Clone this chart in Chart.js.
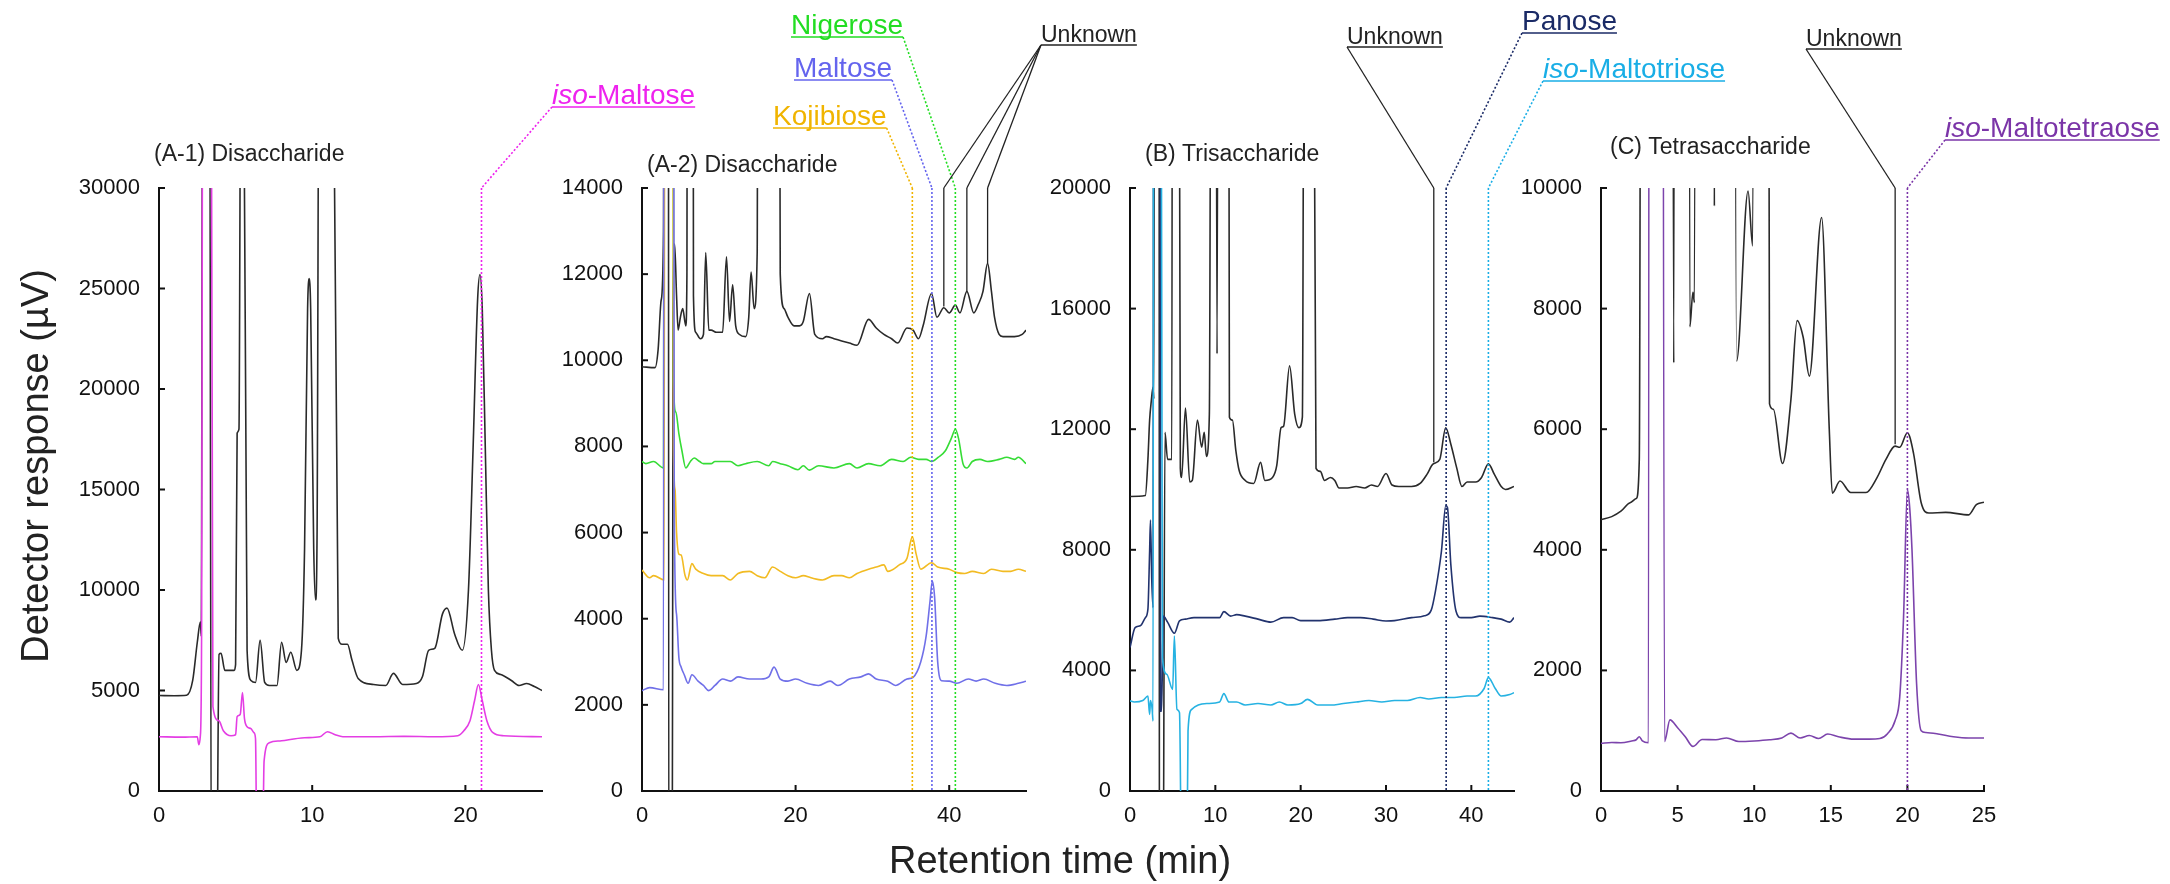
<!DOCTYPE html>
<html>
<head>
<meta charset="utf-8">
<title>Oligosaccharide chromatograms</title>
<script src="https://cdn.jsdelivr.net/npm/chart.js@4.4.1/dist/chart.umd.min.js"></script>
<style>
  html, body { margin: 0; padding: 0; background: #fff; }
  #stage { position: relative; width: 2170px; height: 884px; overflow: hidden; }
  #stage canvas { position: absolute; left: 0; top: 0; }
</style>
</head>
<body>
<div id="stage">
  <canvas id="chartA1" width="2170" height="884"></canvas>
  <canvas id="chartA2" width="2170" height="884"></canvas>
  <canvas id="chartB" width="2170" height="884"></canvas>
  <canvas id="chartC" width="2170" height="884"></canvas>
</div>
<script>
// ============================================
// DATA  (retention time in min, response in µV)
// values far outside the axis range are peaks that run off the plot
// ============================================

// (A-1) Disaccharide
const a1Black = [[0,4750],[1.0,4740],[1.8,4760],[2.2,5500],[2.5,7400],[2.7,8400],[2.76,7700],[2.85,40000],[3.3,40000],[3.42,-6000],[3.75,-6000],[3.92,6800],[4.05,6850],[4.3,6000],[4.9,6000],[5.0,6300],[5.1,17800],[5.22,18000],[5.35,40000],[5.5,40000],[5.75,7000],[6.0,5500],[6.3,5400],[6.6,7500],[6.9,5400],[7.2,5250],[7.7,5250],[8.0,7400],[8.3,6400],[8.6,6900],[9.0,6000],[9.3,7000],[9.5,12000],[9.7,24000],[9.8,25500],[9.9,24000],[10.1,12000],[10.22,9500],[10.32,13000],[10.45,40000],[11.35,40000],[11.7,7600],[11.95,7300],[12.3,7300],[12.6,6500],[13.0,5600],[14.0,5300],[14.8,5250],[15.3,5850],[15.9,5300],[16.8,5350],[17.2,5700],[17.6,7000],[18.0,7100],[18.5,8800],[18.8,9100],[19.3,7800],[19.8,7000],[20.2,10000],[20.5,17000],[20.8,24500],[20.95,25700],[21.1,24000],[21.3,17000],[21.5,10000],[21.7,7000],[21.9,6000],[22.3,5800],[23.0,5500],[23.5,5250],[24.0,5350],[24.5,5200],[25,5000]];
const a1IsoMaltose = [[0,2700],[1.5,2680],[2.5,2700],[2.6,2300],[2.7,2750],[2.78,7700],[2.86,40000],[3.4,40000],[3.52,4200],[3.9,3500],[4.2,3000],[4.7,2750],[5.0,2800],[5.1,3700],[5.3,3800],[5.45,4900],[5.58,3600],[5.75,3200],[6.0,3100],[6.2,2900],[6.3,2600],[6.42,-6000],[6.72,-6000],[6.86,1500],[7.2,2400],[8.0,2500],[9.5,2650],[10.5,2700],[11.0,2950],[11.5,2800],[12.0,2700],[14.0,2700],[16.0,2720],[18.0,2700],[19.5,2750],[19.9,3000],[20.3,3500],[20.6,4500],[20.85,5300],[21.1,4500],[21.4,3500],[21.8,2900],[22.5,2750],[25,2700]];

// (A-2) Disaccharide
const a2Black = [[0,9850],[1.7,9830],[2.1,10250],[2.5,11400],[2.8,13000],[2.95,40000],[3.4,40000],[3.5,-6000],[3.9,-6000],[4.05,11000],[4.25,12700],[4.5,11500],[4.7,10700],[5.0,11000],[5.3,11200],[5.7,10800],[5.85,12000],[5.95,40000],[6.55,40000],[6.7,11500],[7.0,10650],[7.6,10500],[8.0,10600],[8.3,12500],[8.7,10700],[9.0,10700],[9.7,10650],[10.5,10650],[11.0,12400],[11.4,10900],[11.8,11750],[12.2,10800],[12.7,10600],[13.5,10550],[13.9,11000],[14.2,12050],[14.6,11200],[15.0,12500],[15.2,40000],[17.6,40000],[18.0,12000],[18.5,11200],[19.0,11000],[19.8,10800],[20.5,10800],[21.0,10900],[21.8,11550],[22.5,10600],[23.5,10500],[24.0,10550],[25.0,10500],[26.0,10450],[27.0,10400],[28.0,10350],[29.5,10950],[30.5,10750],[31.5,10600],[32.5,10500],[33.3,10400],[34.5,10750],[35.3,10700],[36.0,10500],[36.6,10800],[37.7,11550],[38.4,11000],[39.3,11220],[40.0,11100],[40.8,11280],[41.4,11100],[42.3,11600],[43.2,11100],[43.8,11300],[44.4,11600],[45.0,12250],[45.5,11600],[45.9,11000],[46.5,10600],[47.0,10550],[48.5,10550],[49.5,10600],[50,10700]];
const a2Nigerose = [[0,7650],[0.5,7600],[1.5,7650],[2.8,7500],[2.95,40000],[4.0,40000],[4.1,9500],[4.4,8800],[4.8,8300],[5.2,7900],[5.7,7500],[6.3,7650],[6.8,7730],[7.5,7650],[8.0,7600],[9.0,7600],[9.5,7650],[10.5,7650],[11.5,7650],[12.5,7550],[13.5,7600],[15.0,7650],[16.5,7550],[17.0,7650],[18.0,7600],[19.0,7550],[20.3,7460],[21.0,7550],[21.8,7450],[23.0,7550],[25.0,7500],[27.0,7600],[28.0,7500],[29.5,7600],[31.0,7550],[32.5,7700],[34.0,7650],[35.0,7750],[36.0,7700],[37.0,7700],[37.7,7650],[38.6,7750],[39.5,7900],[40.3,8200],[40.8,8400],[41.2,8200],[41.8,7600],[42.3,7500],[43.0,7650],[44.0,7700],[45.0,7650],[46.5,7700],[47.5,7750],[48.5,7700],[49.0,7750],[50,7600]];
const a2Kojibiose = [[0,5130],[1.0,4950],[1.5,5000],[2.9,4900],[3.0,40000],[3.9,40000],[4.1,8000],[4.3,7000],[4.5,6000],[4.8,5500],[5.1,5480],[5.6,5010],[5.9,4900],[6.5,5280],[7.0,5150],[8.0,5050],[9.0,5000],[10.5,5000],[11.5,4900],[12.5,5050],[14.0,5100],[15.0,5000],[16.0,4950],[17.0,5200],[18.0,5100],[19.0,5000],[20.0,4950],[21.0,5000],[22.0,4950],[23.5,4900],[25.0,5000],[26.0,5000],[27.0,4950],[28.0,5050],[29.5,5150],[30.5,5200],[31.5,5250],[32.0,5100],[33.5,5250],[34.5,5400],[35.2,5900],[35.7,5500],[36.3,5150],[37.7,5300],[38.5,5200],[40.0,5150],[41.0,5070],[42.0,5050],[43.0,5100],[44.5,5050],[45.5,5150],[47.0,5100],[48.0,5100],[49.0,5150],[50,5100]];
const a2Maltose = [[0,2330],[1.0,2400],[2.8,2350],[2.9,40000],[4.0,40000],[4.2,6500],[4.5,4100],[4.8,3100],[5.1,2875],[5.5,2700],[6.0,2500],[6.5,2700],[7.3,2550],[8.0,2450],[8.7,2330],[9.5,2450],[10.5,2600],[11.5,2550],[12.5,2650],[14.0,2600],[15.5,2600],[16.5,2650],[17.2,2875],[18.0,2600],[19.0,2550],[20.0,2600],[21.5,2500],[23.0,2450],[24.5,2550],[25.5,2450],[27.0,2600],[28.5,2650],[29.5,2720],[30.5,2600],[32.0,2550],[33.0,2450],[34.5,2600],[35.3,2640],[36.3,3000],[37.0,3600],[37.5,4400],[37.8,4870],[38.1,4500],[38.5,3000],[39.0,2560],[40.0,2550],[41.0,2500],[42.5,2600],[43.5,2550],[44.5,2600],[46.0,2500],[47.5,2450],[49.0,2500],[50,2550]];

// (B) Trisaccharide
const bBlack = [[0,9770],[1.8,9800],[2.1,11000],[2.3,12300],[2.5,12950],[2.7,13400],[2.8,13000],[2.9,40000],[3.4,40000],[3.45,-6000],[3.85,-6000],[4.1,11900],[4.4,11000],[4.9,11000],[5.0,40000],[5.65,40000],[5.9,10700],[6.05,10400],[6.5,12700],[7.0,10250],[7.3,10300],[7.9,12300],[8.4,11400],[8.7,11900],[8.95,11100],[9.3,12500],[9.6,40000],[10.0,40000],[10.2,14500],[10.4,40000],[11.5,40000],[11.65,12400],[12.0,12300],[12.4,11300],[12.8,10620],[13.5,10300],[14.5,10200],[15.3,10900],[15.8,10300],[16.7,10400],[17.2,10800],[17.7,12050],[18.0,12100],[18.7,14100],[19.3,12500],[19.8,12050],[20.2,12400],[20.5,40000],[21.3,40000],[21.8,10700],[22.3,10600],[22.8,10300],[23.5,10400],[24.0,10300],[24.5,10050],[25.5,10050],[26.5,10100],[27.5,10050],[28.3,10150],[29.0,10100],[30.0,10530],[30.7,10150],[31.5,10100],[33.0,10100],[34.0,10200],[34.8,10500],[35.5,10840],[36.3,11000],[37.0,12050],[37.6,11500],[38.3,10700],[38.9,10100],[39.5,10250],[40.5,10250],[41.2,10400],[42.0,10850],[42.7,10500],[43.5,10100],[44.0,10000],[45,10100]];
const bPanose = [[0,4760],[0.6,5420],[1.2,5480],[1.8,5750],[2.1,6030],[2.3,7960],[2.4,8990],[2.55,7000],[2.7,6080],[2.8,40000],[3.5,40000],[3.58,2650],[3.7,2650],[3.9,5800],[4.4,5600],[5.2,5230],[5.8,5640],[6.5,5700],[7.5,5750],[9.0,5750],[10.5,5750],[11.0,5950],[11.8,5800],[12.5,5850],[13.5,5800],[15.0,5700],[16.5,5600],[18.0,5750],[19.0,5750],[20.0,5650],[22.0,5650],[24.0,5700],[25.5,5750],[27.0,5750],[28.5,5700],[30.0,5640],[31.0,5650],[33.0,5750],[34.5,5810],[35.3,6000],[35.8,6640],[36.5,7960],[37.0,9460],[37.2,9400],[37.6,7500],[38.2,5970],[38.8,5750],[40.0,5750],[41.0,5800],[42.5,5750],[43.5,5700],[44.5,5600],[45,5750]];
const bIsoMaltotriose = [[0,2990],[0.5,2950],[1.5,3000],[2.1,3150],[2.3,2540],[2.4,3000],[2.6,2700],[2.7,2320],[2.8,40000],[3.55,40000],[3.8,4420],[4.3,3870],[5.0,3370],[5.2,5140],[5.5,2710],[5.8,2600],[6.15,-6000],[6.55,-6000],[6.8,1990],[7.2,2700],[8.0,2850],[9.0,2900],[10.5,2950],[11.0,3230],[11.6,2950],[12.5,2950],[13.5,2850],[15.0,2900],[16.5,2850],[17.5,2950],[18.5,2850],[20.0,2900],[20.8,3040],[22.0,2850],[23.5,2850],[25.0,2900],[26.5,2950],[28.0,3000],[29.5,2950],[31.0,3000],[32.5,3000],[34.0,3100],[35.0,3050],[36.5,3100],[38.0,3100],[39.5,3150],[40.5,3150],[41.5,3400],[42.0,3760],[42.8,3400],[43.5,3150],[44.5,3200],[45,3260]];

// (C) Tetrasaccharide
const cBlack = [[0,4500],[0.7,4550],[1.3,4640],[1.9,4780],[2.3,4850],[2.5,5500],[2.75,40000],[4.5,40000],[4.75,7100],[4.9,40000],[5.65,40000],[5.8,7700],[6.0,8270],[6.1,8100],[6.3,40000],[7.3,40000],[7.4,9700],[7.5,40000],[8.5,40000],[8.85,7130],[9.6,9950],[9.9,9040],[10.2,40000],[10.75,40000],[11.0,6420],[11.25,6330],[11.85,5430],[12.4,6500],[12.8,7800],[13.2,7520],[13.6,6880],[14.4,9510],[14.9,6000],[15.1,4940],[15.6,5140],[16.3,4950],[17.3,4950],[18.0,5190],[18.6,5500],[19.2,5720],[19.5,5700],[20.0,5940],[20.4,5600],[20.9,4780],[21.4,4610],[22.5,4620],[24.0,4580],[24.5,4750],[25,4790]];
const cIsoMaltotetraose = [[0,790],[0.7,805],[1.3,800],[2.0,830],[2.3,850],[2.5,900],[2.7,830],[3.1,800],[3.18,40000],[3.9,40000],[4.15,820],[4.5,1180],[5.0,1050],[5.5,900],[6.0,740],[6.6,855],[7.5,850],[8.2,880],[9.0,820],[10.0,830],[11.0,850],[11.8,880],[12.4,960],[13.0,880],[13.6,920],[14.2,870],[14.8,945],[15.5,900],[16.5,860],[17.5,860],[18.2,870],[18.7,950],[19.2,1170],[19.5,1560],[19.75,2890],[20.0,5000],[20.15,4700],[20.3,4000],[20.6,1780],[20.9,1000],[21.2,970],[22.0,945],[23.0,900],[24.0,880],[25,880]];

// peak markers (min) and where the "Unknown" leader lines stop (µV)
const a1LabelTimes = [21.05];
const a2KojibioseTimes = [35.2];
const a2MaltoseTimes = [37.75];
const a2NigeroseTimes = [40.8];
const a2UnknownTimes = [39.3, 42.3, 45.0];
const a2UnknownEnds = [11250, 11600, 12250];
const bPanoseTimes = [37.05];
const bIsoMaltotrioseTimes = [42.0];
const bUnknownTimes = [35.6];
const bUnknownEnds = [10900];
const cIsoMaltotetraoseTimes = [20.0];
const cUnknownTimes = [19.2];
const cUnknownEnds = [5750];

// ============================================
// LAYOUT / STYLE
// ============================================
const FONT = '"Liberation Sans", Arial, Helvetica, sans-serif';
const PAGE_W = 2170, PAGE_H = 884;
const PLOT_TOP = 188, PLOT_BOTTOM = 791;
const Y_AXIS_W = 80, X_AXIS_H = 60;
const TICK_LEN = 6;
const AXIS_COLOR = "#111";

const COL = {
    black: "#2a2a2a",
    magenta: "#e43ee4",
    green: "#36dc36",
    gold: "#f2bb22",
    lilac: "#7070e8",
    navy: "#22336e",
    cyan: "#26b2e2",
    purple: "#7c44ac"
};

function seg(ctx, x1, y1, x2, y2) {
    ctx.beginPath();
    ctx.moveTo(x1, y1);
    ctx.lineTo(x2, y2);
    ctx.stroke();
}

function drawLabel(ctx, note) {
    let x = note.x;
    ctx.fillStyle = note.color;
    ctx.textAlign = "left";
    ctx.textBaseline = "alphabetic";
    note.parts.forEach(([txt, italic]) => {
        ctx.font = (italic ? "italic " : "") + note.size + "px " + FONT;
        ctx.fillText(txt, x, note.baseline);
        x += ctx.measureText(txt).width;
    });
    const uy = note.baseline + 3;
    ctx.strokeStyle = note.color;
    ctx.lineWidth = 1.5;
    ctx.setLineDash([]);
    seg(ctx, note.x, uy, x, uy);
    return { x: note.anchor === "left" ? note.x : x, y: uy };
}

// Draws inward ticks, the panel title and the peak labels with their leader lines
function decorPlugin(panel) {
    return {
        id: "decor_" + panel.id,
        afterDraw(chart) {
            const ctx = chart.ctx;
            const xs = chart.scales.x, ys = chart.scales.y, area = chart.chartArea;
            ctx.save();

            ctx.strokeStyle = AXIS_COLOR;
            ctx.lineWidth = 2;
            xs.ticks.forEach(t => {
                if (t.value <= xs.min) return;
                const px = xs.getPixelForValue(t.value);
                seg(ctx, px, area.bottom, px, area.bottom - TICK_LEN);
            });
            ys.ticks.forEach(t => {
                if (t.value <= ys.min) return;
                const py = ys.getPixelForValue(t.value);
                seg(ctx, area.left, py, area.left + TICK_LEN, py);
            });

            ctx.fillStyle = "#222";
            ctx.font = "23px " + FONT;
            ctx.textAlign = "left";
            ctx.textBaseline = "middle";
            ctx.fillText(panel.title, panel.titleX, panel.titleY);

            panel.notes.forEach(note => {
                const anchor = drawLabel(ctx, note);
                ctx.strokeStyle = note.color;
                ctx.lineWidth = note.dotted ? 1.6 : 1.3;
                ctx.setLineDash(note.dotted ? [2, 2] : []);
                note.times.forEach((t, i) => {
                    const px = xs.getPixelForValue(t);
                    const bottom = note.ends ? ys.getPixelForValue(note.ends[i]) : area.bottom;
                    seg(ctx, anchor.x, anchor.y, px, area.top);
                    seg(ctx, px, area.top, px, bottom);
                });
            });

            if (panel.axisTitles) {
                ctx.setLineDash([]);
                ctx.fillStyle = "#222";
                ctx.font = "38px " + FONT;
                ctx.textAlign = "center";
                ctx.textBaseline = "middle";
                ctx.save();
                ctx.translate(38, 466);
                ctx.rotate(-Math.PI / 2);
                ctx.fillText("Detector response (µV)", 0, 0);
                ctx.restore();
                ctx.textBaseline = "alphabetic";
                ctx.fillText("Retention time (min)", 1060, 873);
            }
            ctx.restore();
        }
    };
}

function toPoints(pairs) {
    return pairs.map(p => ({ x: p[0], y: p[1] }));
}

// plain numbers, no thousands separator
function plainTick(value) {
    return String(value);
}

function makePanel(panel) {
    const tickFont = { family: FONT, size: 22 };
    return new Chart(document.getElementById(panel.canvas), {
        type: "line",
        data: {
            datasets: panel.series.map(s => ({
                data: toPoints(s.data),
                borderColor: s.color,
                borderWidth: 1.6,
                pointRadius: 0,
                cubicInterpolationMode: "monotone",
                fill: false
            }))
        },
        options: {
            responsive: false,
            animation: false,
            events: [],
            layout: {
                padding: {
                    left: panel.left - Y_AXIS_W,
                    right: PAGE_W - panel.right,
                    top: PLOT_TOP,
                    bottom: PAGE_H - PLOT_BOTTOM - X_AXIS_H
                }
            },
            plugins: { legend: { display: false }, tooltip: { enabled: false } },
            scales: {
                x: {
                    type: "linear",
                    min: 0,
                    max: panel.xMax,
                    afterFit: s => { s.height = X_AXIS_H; },
                    grid: { display: false, drawTicks: false },
                    border: { display: true, color: AXIS_COLOR, width: 2 },
                    ticks: { stepSize: panel.xStep, includeBounds: false, padding: 12, color: "#111", font: tickFont, maxRotation: 0, autoSkip: false, callback: plainTick }
                },
                y: {
                    type: "linear",
                    min: 0,
                    max: panel.yMax,
                    afterFit: s => { s.width = Y_AXIS_W; },
                    grid: { display: false, drawTicks: false },
                    border: { display: true, color: AXIS_COLOR, width: 2 },
                    ticks: { stepSize: panel.yStep, padding: 19, color: "#111", font: tickFont, autoSkip: false, callback: plainTick }
                }
            }
        },
        plugins: [decorPlugin(panel)]
    });
}

// ============================================
// PANELS
// ============================================
makePanel({
    id: "a1", canvas: "chartA1", left: 159, right: 542,
    xMax: 25, xStep: 10, yMax: 30000, yStep: 5000,
    title: "(A-1) Disaccharide", titleX: 154, titleY: 155,
    axisTitles: true,
    series: [
        { data: a1IsoMaltose, color: COL.magenta },
        { data: a1Black, color: COL.black }
    ],
    notes: [
        { parts: [["iso", true], ["-Maltose", false]], color: "#ee22ee", x: 552, baseline: 104, size: 28, anchor: "left", dotted: true, times: a1LabelTimes }
    ]
});

makePanel({
    id: "a2", canvas: "chartA2", left: 642, right: 1026,
    xMax: 50, xStep: 20, yMax: 14000, yStep: 2000,
    title: "(A-2) Disaccharide", titleX: 647, titleY: 166,
    series: [
        { data: a2Maltose, color: COL.lilac },
        { data: a2Kojibiose, color: COL.gold },
        { data: a2Nigerose, color: COL.green },
        { data: a2Black, color: COL.black }
    ],
    notes: [
        { parts: [["Nigerose", false]], color: "#22dd22", x: 791, baseline: 34, size: 28, anchor: "right", dotted: true, times: a2NigeroseTimes },
        { parts: [["Maltose", false]], color: "#6464ee", x: 794, baseline: 77, size: 28, anchor: "right", dotted: true, times: a2MaltoseTimes },
        { parts: [["Kojibiose", false]], color: "#f0b400", x: 773, baseline: 125, size: 28, anchor: "right", dotted: true, times: a2KojibioseTimes },
        { parts: [["Unknown", false]], color: "#222", x: 1041, baseline: 42, size: 23, anchor: "left", dotted: false, times: a2UnknownTimes, ends: a2UnknownEnds }
    ]
});

makePanel({
    id: "b", canvas: "chartB", left: 1130, right: 1514,
    xMax: 45, xStep: 10, yMax: 20000, yStep: 4000,
    title: "(B) Trisaccharide", titleX: 1145, titleY: 155,
    series: [
        { data: bIsoMaltotriose, color: COL.cyan },
        { data: bPanose, color: COL.navy },
        { data: bBlack, color: COL.black }
    ],
    notes: [
        { parts: [["Unknown", false]], color: "#222", x: 1347, baseline: 44, size: 23, anchor: "left", dotted: false, times: bUnknownTimes, ends: bUnknownEnds },
        { parts: [["Panose", false]], color: "#1a2a66", x: 1522, baseline: 30, size: 28, anchor: "left", dotted: true, times: bPanoseTimes },
        { parts: [["iso", true], ["-Maltotriose", false]], color: "#19aee6", x: 1543, baseline: 78, size: 28, anchor: "left", dotted: true, times: bIsoMaltotrioseTimes }
    ]
});

makePanel({
    id: "c", canvas: "chartC", left: 1601, right: 1984,
    xMax: 25, xStep: 5, yMax: 10000, yStep: 2000,
    title: "(C) Tetrasaccharide", titleX: 1610, titleY: 148,
    series: [
        { data: cIsoMaltotetraose, color: COL.purple },
        { data: cBlack, color: COL.black }
    ],
    notes: [
        { parts: [["Unknown", false]], color: "#222", x: 1806, baseline: 46, size: 23, anchor: "left", dotted: false, times: cUnknownTimes, ends: cUnknownEnds },
        { parts: [["iso", true], ["-Maltotetraose", false]], color: "#7b35a8", x: 1945, baseline: 137, size: 28, anchor: "left", dotted: true, times: cIsoMaltotetraoseTimes }
    ]
});
</script>
</body>
</html>
